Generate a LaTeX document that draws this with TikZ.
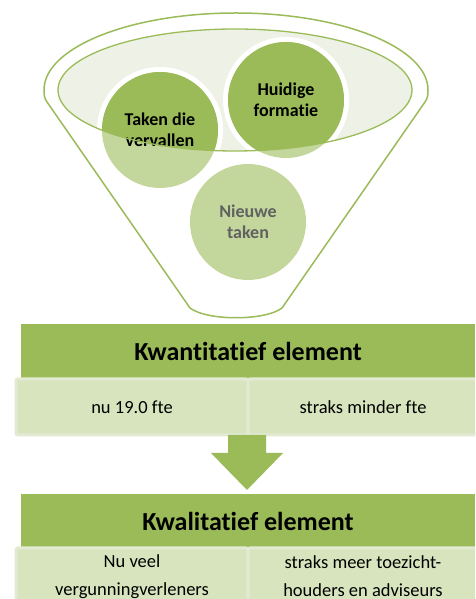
\documentclass[tikz,border=0pt]{standalone}
\usepackage{fontspec}
\setmainfont{Carlito}[Ligatures=NoCommon]
\definecolor{groen}{HTML}{9BBB59}
\definecolor{lichtgroen}{HTML}{C3D69B}
\definecolor{vaal}{HTML}{EEF2E6}
\definecolor{vakvul}{HTML}{D8E4BE}
\definecolor{vakrand}{HTML}{E2EAD3}
\definecolor{grijs}{HTML}{616161}

\begin{document}
\begin{tikzpicture}[x=1pt,y=1pt,
  bol/.style={circle,minimum size=116pt,inner sep=0pt,align=center,font=\fontsize{18}{20.5}\selectfont\bfseries},
  kop/.style={fill=groen,minimum height=55pt,inner sep=0pt,font=\fontsize{26}{30}\selectfont\bfseries},
  vak/.style={fill=vakvul,draw=vakrand,line width=3pt,rounded corners=2pt,inner sep=0pt,align=center,font=\fontsize{18.5}{28}\selectfont}]
\useasboundingbox (0,0) rectangle (475,599);
\clip (0,0) rectangle (475,599);
% trechter
\fill[vaal] (235,509) ellipse[x radius=177pt,y radius=61pt];
\foreach \p in {(160,469),(286,499),(248,377)}
  {\fill[white] \p circle (63pt); \fill[lichtgroen] \p circle (58pt);}
\begin{scope}
\clip (235,509) ellipse[x radius=177pt,y radius=61pt];
\fill[groen] (160,469) circle (58pt) (286,499) circle (58pt);
\end{scope}
\node[bol] (taken) at (160,469) {Taken die\\vervallen};
\node[bol] (huidig) at (286,499) {Huidige\\formatie};
\node[bol,text=grijs] (nieuw) at (248,377) {Nieuwe\\taken};
\draw[groen,line width=1.3pt] (235,509) ellipse[x radius=177pt,y radius=61pt];
\draw[groen,line width=1.5pt] (190,291) -- (47,497) to[out=125,in=-90] (44,509)
  arc[start angle=180,end angle=0,x radius=192pt,y radius=77pt]
  to[out=-90,in=55] (425,497) -- (282,291) .. controls (265,278) and (207,278) .. cycle;
% kwantitatief
\node[kop,minimum width=454pt] (kwant) at (248,247.5) {Kwantitatief element};
\node[vak,minimum width=232pt,minimum height=56pt] (nu1) at (132,192) {nu 19.0 fte};
\node[vak,minimum width=230pt,minimum height=56pt] (straks1) at (363,192) {straks minder fte};
% pijl
\fill[groen] (228,164) -- (228,146) -- (211,146) -- (247,109) -- (283,146) -- (266,146) -- (266,164) -- cycle;
% kwalitatief
\node[kop,minimum width=454pt] (kwal) at (248,77.5) {Kwalitatief element};
\node[vak,minimum width=232pt,minimum height=57pt] (nu2) at (132,22.5) {Nu veel\\vergunningverleners};
\node[vak,minimum width=230pt,minimum height=57pt] (straks2) at (363,22.5) {straks meer toezicht-\\houders en adviseurs};
\end{tikzpicture}
\end{document}
